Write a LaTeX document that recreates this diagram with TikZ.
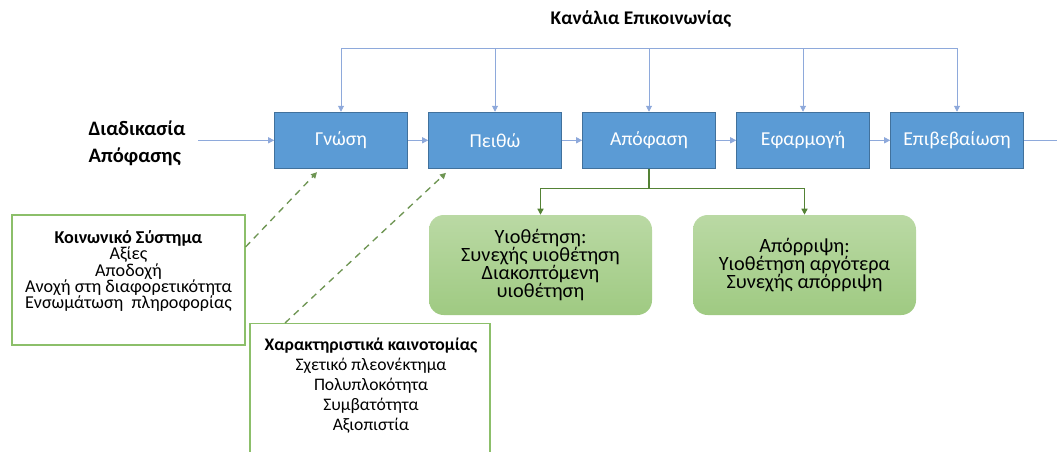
\documentclass[tikz,border=0pt]{standalone}
\usepackage{fontspec}
\setmainfont{Carlito}
\usetikzlibrary{arrows.meta}

\definecolor{boxblue}{HTML}{5B9BD5}
\definecolor{boxblueedge}{HTML}{41719C}
\definecolor{chanblue}{HTML}{8EA9DB}
\definecolor{leafgreen}{HTML}{548235}
\definecolor{leaftop}{HTML}{BAD9A4}
\definecolor{leafbottom}{HTML}{9FCA82}
\definecolor{frameedge}{HTML}{8CBF6A}

\begin{document}
\begin{tikzpicture}[x=0.75pt, y=-0.75pt, >={Triangle[length=4.5pt,width=4.5pt]},
  stage/.style={draw=boxblueedge, fill=boxblue, text=white, minimum width=99.75pt, minimum height=42.4pt, font=\fontsize{14.8}{16}\selectfont},
  outcome/.style={rounded corners=11pt, top color=leaftop, bottom color=leafbottom, minimum width=167.25pt, minimum height=75pt, align=center, font=\fontsize{15.2}{13.7}\selectfont},
  frame/.style={draw=frameedge, fill=white, line width=0.8pt},
  chan/.style={draw=chanblue, line width=0.7pt},
  decide/.style={draw=leafgreen, line width=1pt},
  influence/.style={draw=leafgreen!85!white, line width=1pt, dash pattern=on 5pt off 4pt}]
\useasboundingbox (0,0) rectangle (1057,451);
\clip (0,0) rectangle (1057,451);

% stages of the decision process
\node[stage] (gnosi) at (341,140.3) {Γνώση};
\node[stage] (peitho) at (495,140.3) {Πειθώ};
\node[stage] (apofasi) at (649,140.3) {Απόφαση};
\node[stage] (efarmogi) at (803,140.3) {Εφαρμογή};
\node[stage] (epivevaiosi) at (957,140.3) {Επιβεβαίωση};

\node[font=\bfseries\fontsize{14.5}{16}\selectfont] (kanalia) at (641,19) {Κανάλια Επικοινωνίας};
\node[font=\bfseries\fontsize{15.4}{20}\selectfont, align=left] (diadikasia) at (137,143) {Διαδικασία\\Απόφασης};

\coordinate (chL) at (341,48.3);
\coordinate (chR) at (957,48.3);
\coordinate (inL) at (198,140.3);
\coordinate (outR) at (1060,140.3);
\coordinate (split) at (649,188.3);

% outcomes
\node[outcome] (yiothetisi) at (540.5,265) {Υιοθέτηση:\\Συνεχής υιοθέτηση\\Διακοπτόμενη\\υιοθέτηση};
\node[outcome] (aporripsi) at (804.5,265) {Απόρριψη:\\Υιοθέτηση αργότερα\\Συνεχής απόρριψη};

% influencing factors
\node[frame, minimum width=174.75pt, minimum height=97.5pt] (social) at (128.5,280) {};
\node[align=center, font=\fontsize{13.6}{12.2}\selectfont] (socialtext) at (128.5,271) {\textbf{Κοινωνικό Σύστημα}\\Αξίες\\Αποδοχή\\Ανοχή στη διαφορετικότητα\\Ενσωμάτωση\ \ πληροφορίας};
\node[frame, minimum width=180pt, minimum height=120pt, anchor=north] (innov) at (370,323) {};
\node[align=center, font=\fontsize{13.2}{15}\selectfont, anchor=north] (innovtext) at (371,333) {\textbf{Χαρακτηριστικά καινοτομίας}\\Σχετικό πλεονέκτημα\\Πολυπλοκότητα\\Συμβατότητα\\Αξιοπιστία};

% connectors
\draw[chan, ->] (inL) -- (gnosi);
\draw[chan, ->] (gnosi) -- (peitho);
\draw[chan, ->] (peitho) -- (apofasi);
\draw[chan, ->] (apofasi) -- (efarmogi);
\draw[chan, ->] (efarmogi) -- (epivevaiosi);
\draw[chan] (epivevaiosi) -- (outR);
\draw[chan] (chL) -- (chR);
\foreach \st in {gnosi,peitho,apofasi,efarmogi,epivevaiosi}
  \draw[chan, ->] (\st.north |- chL) -- (\st.north);

\draw[decide] (apofasi) -- (split);
\draw[decide, ->] (split) -| (yiothetisi);
\draw[decide, ->] (split) -| (aporripsi);

\draw[influence, ->] ([yshift=24.75pt]social.east) -- ([xshift=-18pt,yshift=-2.5pt]gnosi.south);
\draw[influence, ->] ([xshift=-63.75pt]innov.north) -- ([xshift=-36.75pt,yshift=-3pt]peitho.south);
\end{tikzpicture}
\end{document}
